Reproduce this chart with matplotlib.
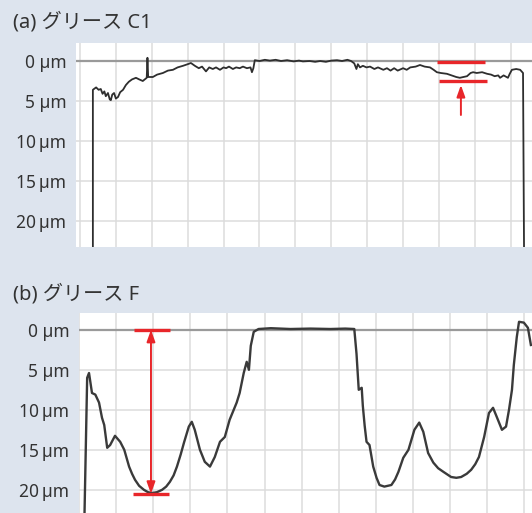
"""Profils de surface mesurés pour deux graisses (C1 et F)."""

import matplotlib.pyplot as plt

plt.rcParams["font.family"] = ["Noto Sans", "Noto Sans CJK JP", "DejaVu Sans"]

BG = "#dde4ee"
TEXT = "#333333"
RED = "#e8262a"

TITLES = ["(a) グリース C1", "(b) グリース F"]
Y_TICKS = [0, 5, 10, 15, 20]
Y_LABELS = ["0 µm", "5 µm", "10\u2009µm", "15\u2009µm", "20\u2009µm"]

# (a) position le long du balayage (divisions) / profondeur (µm)
a_x = [0.36, 0.36, 0.45, 0.52, 0.58, 0.63, 0.68, 0.72, 0.78, 0.83, 0.86, 0.90,
       0.95, 1.00, 1.06, 1.12, 1.20, 1.28, 1.36, 1.45, 1.56, 1.65, 1.75, 1.86,
       1.88, 1.90, 2.03, 2.15, 2.31, 2.45, 2.59, 2.72, 2.87, 3.00, 3.09, 3.20,
       3.31, 3.40, 3.51, 3.60, 3.70, 3.79, 3.90, 4.00, 4.07, 4.15, 4.26, 4.35,
       4.45, 4.54, 4.65, 4.75, 4.79, 4.83, 4.87, 5.00, 5.15, 5.29, 5.45, 5.60,
       5.77, 5.95, 6.10, 6.21, 6.40, 6.55, 6.69, 6.85, 7.00, 7.16, 7.30, 7.45,
       7.55, 7.64, 7.70, 7.74, 7.80, 7.88, 7.98, 8.08, 8.20, 8.30, 8.45, 8.55,
       8.65, 8.75, 8.85, 9.00, 9.10, 9.20, 9.35, 9.47, 9.60, 9.75, 9.85, 9.94,
       10.05, 10.22, 10.35, 10.48, 10.58, 10.68, 10.78, 10.88, 10.95, 11.05,
       11.20, 11.34, 11.45, 11.55, 11.65, 11.70, 11.80, 11.92, 11.97, 12.03,
       12.15, 12.26, 12.34, 12.37]
a_depth = [25.0, 3.6, 3.3, 3.6, 3.5, 4.1, 3.8, 4.4, 4.0, 4.8, 4.9, 4.2,
           4.0, 4.7, 4.5, 3.9, 3.6, 3.0, 2.6, 2.3, 2.1, 2.3, 2.5, 2.1,
           -0.4, 2.0, 2.0, 1.7, 1.5, 1.2, 1.1, 0.8, 0.6, 0.4, 0.25, 0.6,
           0.9, 0.7, 1.3, 0.8, 1.0, 0.8, 1.1, 0.8, 0.9, 0.7, 1.0, 0.8,
           0.9, 0.7, 0.9, 0.8, 1.4, 0.9, -0.1, 0.0, -0.15, -0.05, -0.15, 0.0,
           -0.1, 0.05, -0.05, 0.05, 0.0, 0.1, 0.0, 0.1, -0.05, -0.1, 0.0, -0.15,
           0.0, 0.3, 1.0, 0.4, 0.8, 0.6, 0.8, 0.7, 1.0, 0.8, 1.1, 0.9,
           1.2, 0.9, 1.2, 0.9, 1.1, 0.8, 0.7, 0.5, 0.7, 0.8, 1.1, 1.4,
           1.5, 1.6, 1.8, 2.0, 2.1, 2.0, 1.9, 1.5, 1.4, 1.5,
           1.4, 1.6, 1.7, 1.9, 1.8, 2.1, 1.8, 2.1, 1.6, 1.1,
           1.0, 1.1, 1.5, 25.0]

# (b)
b_x = [0.14, 0.22, 0.27, 0.35, 0.44, 0.54, 0.62, 0.68, 0.76, 0.84, 0.97, 1.11,
       1.22, 1.35, 1.43, 1.51, 1.62, 1.75, 1.86, 1.97, 2.10, 2.24, 2.35, 2.45,
       2.55, 2.64, 2.74, 2.83, 2.96, 3.04, 3.12,
       3.26, 3.39, 3.53, 3.66, 3.80, 3.93, 4.06, 4.25, 4.33, 4.44, 4.52, 4.58,
       4.63, 4.71, 4.84, 5.17, 5.70, 6.24, 6.78, 7.18, 7.42, 7.48, 7.54, 7.62,
       7.65, 7.70, 7.75, 7.83, 7.93, 8.02, 8.10, 8.23, 8.42, 8.52, 8.61, 8.74,
       8.88, 9.04, 9.17, 9.28, 9.41, 9.55, 9.68, 9.82, 10.03, 10.17, 10.30,
       10.45, 10.57, 10.68, 10.78, 10.92, 11.05,
       11.16, 11.27, 11.40, 11.51, 11.59, 11.67, 11.72, 11.80, 11.86, 11.99,
       12.10, 12.18]
b_depth = [25.0, 6.0, 5.4, 7.9, 8.1, 9.1, 11.0, 11.9, 14.75, 14.4, 13.25, 14.0,
           15.0, 17.1, 18.0, 18.75, 19.5, 20.0, 20.3, 20.4, 20.3, 20.0, 19.6, 19.0,
           18.2, 17.1, 15.6, 14.1, 12.1, 11.5, 12.5,
           15.0, 16.5, 17.1, 15.9, 14.0, 13.4, 11.25, 9.1, 7.9, 5.4, 4.0, 5.0,
           2.0, 0.25, -0.1, -0.2, -0.1, -0.15, -0.1, -0.15, -0.1, 3.0, 7.5, 7.25,
           9.5, 12.0, 14.0, 14.4, 17.1, 18.5, 19.4, 19.6, 19.4, 18.7, 17.75, 16.0,
           15.0, 12.5, 11.6, 12.75, 15.4, 16.6, 17.3, 17.75, 18.4, 18.5, 18.4,
           18.0, 17.5, 16.8, 15.9, 13.4, 10.4,
           9.75, 11.0, 12.5, 12.1, 10.0, 7.5, 4.4, 0.9, -1.0, -0.9,
           -0.25, 1.9]

# repères rouges : barres (x début, x fin, y) et flèches (x, y départ, y arrivée)
a_bars = [(9.94, 11.28, 0.1), (9.99, 11.34, 2.5)]
a_arrow = (10.61, 6.75, 3.0)
b_bars = [(1.48, 2.45, 0.0), (1.45, 2.42, 20.5)]
b_arrow = (1.94, 0.0, 20.5)


def preparer_axe(ax, xlim, ylim):
    ax.set_facecolor("white")
    ax.set_xlim(*xlim)
    ax.set_ylim(*ylim)
    for s in ax.spines.values():
        s.set_visible(False)
    ax.set_xticks(range(0, 13))
    ax.set_xticklabels([])
    ax.set_yticks(Y_TICKS)
    ax.set_yticklabels(Y_LABELS)
    ax.tick_params(length=0, pad=7, labelsize=12.5, labelcolor=TEXT)
    ax.grid(True, color="#dcdcdc", lw=1.1)
    ax.set_axisbelow(True)
    ax.axhline(0, color="#9a9a9a", lw=1.6, zorder=1.5)


fig = plt.figure(figsize=(5.32, 5.13), dpi=100)
fig.patch.set_facecolor(BG)

ax_a = fig.add_axes([76 / 532, 1 - 247 / 513, 456 / 532, 204 / 513])
preparer_axe(ax_a, (-0.11, 12.59), (23.25, -2.25))
ax_a.plot(a_x, a_depth, color="#2e2e2e", lw=1.3, zorder=3)
for x0, x1, y in a_bars:
    ax_a.plot([x0, x1], [y, y], color=RED, lw=2.4, solid_capstyle="butt", zorder=4)
ax_a.annotate("", xy=(a_arrow[0], a_arrow[2]), xytext=(a_arrow[0], a_arrow[1]),
              arrowprops=dict(arrowstyle="-|>,head_length=0.7,head_width=0.25",
                              color=RED, lw=1.4, shrinkA=0, shrinkB=0), zorder=4)

ax_b = fig.add_axes([79 / 532, 0, 453 / 532, 200 / 513])
preparer_axe(ax_b, (0.03, 12.21), (22.9, -2.1))
ax_b.plot(b_x, b_depth, color="#3a3a3a", lw=1.7, zorder=3)
for x0, x1, y in b_bars:
    ax_b.plot([x0, x1], [y, y], color=RED, lw=2.4, solid_capstyle="butt", zorder=4)
ax_b.annotate("", xy=(b_arrow[0], b_arrow[2]), xytext=(b_arrow[0], b_arrow[1]),
              arrowprops=dict(arrowstyle="<|-|>,head_length=0.7,head_width=0.25",
                              color=RED, lw=1.4, shrinkA=0, shrinkB=0), zorder=4)

fig.text(13 / 532, 1 - 22 / 513, TITLES[0], fontsize=14.5, color=TEXT, va="center")
fig.text(13 / 532, 1 - 294 / 513, TITLES[1], fontsize=14.5, color=TEXT, va="center")

fig.savefig("out.png", dpi=100, facecolor=BG)
